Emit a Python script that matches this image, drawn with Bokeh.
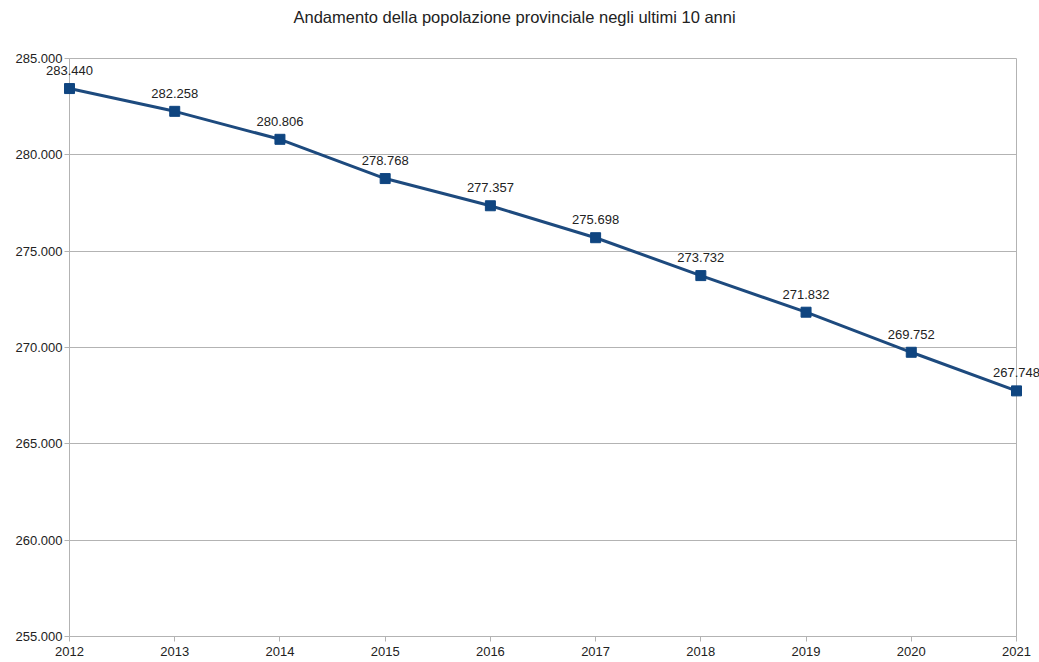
from bokeh.plotting import figure
from bokeh.models import ColumnDataSource, FixedTicker, Title
from bokeh.core.properties import value
from bokeh.embed import file_html
from bokeh.resources import INLINE

years = [2012, 2013, 2014, 2015, 2016, 2017, 2018, 2019, 2020, 2021]
population = [283440, 282258, 280806, 278768, 277357, 275698, 273732, 271832, 269752, 267748]
y_ticks = [255000, 260000, 265000, 270000, 275000, 280000, 285000]
title_text = "Andamento della popolazione provinciale negli ultimi 10 anni"


def it_fmt(v):
    return f"{v:,}".replace(",", ".")


src = ColumnDataSource(dict(x=years, y=population, lab=[it_fmt(v) for v in population]))

FONT = "Liberation Sans"
GREY = "#b3b3b3"

p = figure(width=1039, height=662, output_backend="svg", toolbar_location=None,
           title=None,
           x_range=(2012, 2021), y_range=(255000, 285000),
           min_border_left=69, min_border_right=23, min_border_top=57, min_border_bottom=26)
p.add_layout(Title(text=" ", text_font=FONT, text_font_size="14px"), "above")
p.add_layout(Title(text=title_text, align="left", offset=224, text_font=FONT,
                   text_font_size="16.5px", text_font_style="normal", text_color="#222222"),
             "above")

p.line("x", "y", source=src, line_color="#1d4a7e", line_width=3, level="overlay")
p.scatter("x", "y", source=src, marker="square", size=10, fill_color="#0f4580",
          line_color="#0f4580", level="overlay")
p.text("x", "y", text="lab", source=src, text_align="center", text_baseline="alphabetic",
       y_offset=-18, text_font=value(FONT), text_font_size="13px", text_color="#222222",
       level="overlay")

p.xaxis.ticker = FixedTicker(ticks=years)
p.yaxis.ticker = FixedTicker(ticks=y_ticks)
p.yaxis.major_label_overrides = {t: it_fmt(t) for t in y_ticks}
for ax in (p.xaxis, p.yaxis):
    ax.axis_line_color = GREY
    ax.major_tick_line_color = GREY
    ax.major_tick_in = 0
    ax.major_tick_out = 5
    ax.minor_tick_line_color = None
    ax.major_label_text_font = FONT
    ax.major_label_text_font_size = "13px"
    ax.major_label_text_color = "#222222"
p.xaxis.major_label_standoff = 5
p.yaxis.major_label_standoff = 2

p.xgrid.grid_line_color = None
p.ygrid.grid_line_color = GREY
p.outline_line_color = GREY
p.background_fill_color = "white"
p.border_fill_color = "white"

open("out.html", "w").write(file_html(p, INLINE))
